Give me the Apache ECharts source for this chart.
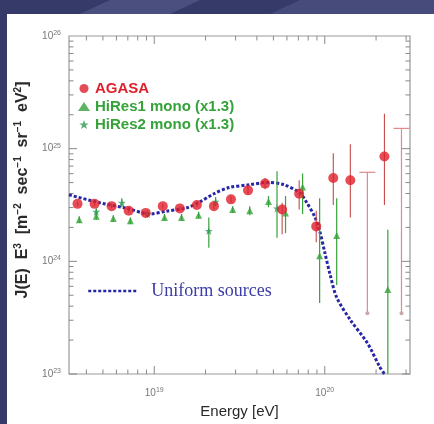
<!DOCTYPE html>
<html>
<head>
<meta charset="utf-8">
<script src="https://cdn.jsdelivr.net/npm/echarts@6/dist/echarts.min.js"></script>
<style>html,body{margin:0;padding:0;background:#383c6a;}#c{width:434px;height:424px;}</style>
</head>
<body>
<div id="c"></div>
<script>
// ---- data (log10 of energy in eV, log10 of J(E)E^3) ----
const agasaLogE = [18.55,18.65,18.75,18.85,18.95,19.05,19.15,19.25,19.35,19.45,19.55,19.65,19.75,19.85,19.95,20.05,20.15,20.35];
const agasaLogJ = [24.51,24.51,24.49,24.45,24.43,24.49,24.47,24.50,24.49,24.55,24.63,24.69,24.46,24.60,24.31,24.74,24.72,24.93];
const agasaLo   = [24.49,24.49,24.47,24.43,24.41,24.47,24.45,24.48,24.46,24.52,24.59,24.64,24.24,24.46,24.17,24.50,24.39,24.50];
const agasaHi   = [24.53,24.53,24.51,24.47,24.45,24.51,24.49,24.52,24.52,24.58,24.67,24.74,24.52,24.72,24.45,24.96,25.04,25.31];
const agasaLimLogE = [20.25, 20.45];
const agasaLimTop  = [24.79, 25.18];
const agasaLimBot  = [23.54, 23.54];

const hires1LogE = [18.56,18.66,18.76,18.86,19.06,19.16,19.26,19.46,19.56,19.67,19.77,19.87,19.97,20.07,20.37];
const hires1LogJ = [24.37,24.40,24.38,24.36,24.39,24.39,24.41,24.46,24.45,24.53,24.43,24.66,24.05,24.23,23.75];
const hires1Lo   = [24.34,24.37,24.35,24.33,24.36,24.36,24.38,24.43,24.41,24.48,24.25,24.42,23.63,23.79,23.00];
const hires1Hi   = [24.40,24.43,24.41,24.39,24.42,24.42,24.44,24.49,24.49,24.58,24.58,24.78,24.56,24.56,24.28];

const hires2LogE = [18.66,18.81,18.96,19.32,19.36,19.72];
const hires2LogJ = [24.44,24.52,24.42,24.27,24.53,24.47];
const hires2Lo   = [24.41,24.48,24.39,24.12,24.49,24.21];
const hires2Hi   = [24.47,24.56,24.45,24.39,24.57,24.80];

const curveLogE = [18.50,18.68,18.84,18.975,19.07,19.19,19.27,19.35,19.44,19.56,19.66,19.76,19.855,19.895,19.94,19.97,20.00,20.03,20.07,20.15,20.25,20.32,20.35];
const curveLogJ = [24.59,24.52,24.47,24.42,24.445,24.475,24.53,24.60,24.655,24.68,24.70,24.68,24.605,24.52,24.40,24.27,24.08,23.89,23.68,23.48,23.275,23.07,23.00];

const xRangeLog = [18.5, 20.5];
const yRangeLog = [23, 26];

// ---- helpers ----
const p10 = v => Math.pow(10, v);
const xMin = p10(xRangeLog[0]), xMax = p10(xRangeLog[1]);
const yMin = p10(yRangeLog[0]), yMax = p10(yRangeLog[1]);
const pts = (xs, ys) => xs.map((x, i) => [p10(x), p10(ys[i])]);
const errs = (xs, lo, hi) => xs.map((x, i) => [p10(x), p10(lo[i]), p10(hi[i])]);

// tick list: [x, y, kind(0=x,1=y), major(1/0)]
const ticks = [];
for (let n = Math.floor(xRangeLog[0]); n <= Math.ceil(xRangeLog[1]); n++) {
  for (let k = 1; k <= 9; k++) {
    const v = k * p10(n);
    if (v >= xMin * 1.0001 && v <= xMax * 0.9999) ticks.push([v, yMin, 0, k === 1 ? 1 : 0]);
  }
}
for (let n = yRangeLog[0]; n < yRangeLog[1]; n++) {
  for (let k = 1; k <= 9; k++) {
    ticks.push([xMin, k * p10(n), 1, k === 1 ? 1 : 0]);
  }
}

const RED = '#e01f2a', GREEN = '#36a23a', BLUE = '#2626a8';

function labelFmt(v) {
  const l = Math.log10(v), e = Math.round(l);
  if (Math.abs(l - e) > 1e-6) return '';
  return '{b|10}{s|' + e + '}';
}
const labelRich = {
  b: {fontSize: 10, color: '#777', fontFamily: 'Liberation Sans'},
  s: {fontSize: 7, color: '#777', fontFamily: 'Liberation Sans', padding: [0, 0, 6, 0]}
};

function errorBar(color, width) {
  return function (params, api) {
    const a = api.coord([api.value(0), api.value(1)]);
    const b = api.coord([api.value(0), api.value(2)]);
    return {type: 'line', shape: {x1: a[0], y1: a[1], x2: b[0], y2: b[1]},
      style: {stroke: color, lineWidth: width}};
  };
}

const chart = echarts.init(document.getElementById('c'), null, {renderer: 'canvas'});
chart.setOption({
  backgroundColor: '#363a68',
  animation: false,
  graphic: [
    {type: 'polygon', z: -101, silent: true, shape: {points: [[110, 0], [200, 0], [170, 14], [80, 14]]}, style: {fill: '#4a4f80'}},
    {type: 'polygon', z: -101, silent: true, shape: {points: [[300, 0], [434, 0], [434, 14], [270, 14]]}, style: {fill: '#464b7c'}},
    {type: 'rect', z: -100, silent: true, shape: {x: 7, y: 14, width: 427, height: 410}, style: {fill: '#ffffff'}}
  ],
  grid: {left: 69, right: 24, top: 36, bottom: 46, show: true, borderColor: '#999', borderWidth: 1.2, backgroundColor: '#fff'},
  legend: [
    {
      orient: 'vertical', left: 73, top: 76, itemWidth: 12, itemHeight: 9, itemGap: 3,
      textStyle: {fontFamily: 'Liberation Sans', fontWeight: 'bold', fontSize: 15},
      data: [
        {name: 'AGASA', textStyle: {color: RED}},
        {name: 'HiRes1 mono (x1.3)', textStyle: {color: GREEN}},
        {name: 'HiRes2 mono (x1.3)', textStyle: {color: GREEN}}
      ]
    },
    {
      left: 82, top: 277, itemWidth: 50, itemHeight: 10,
      textStyle: {fontFamily: 'Liberation Serif', fontSize: 18, color: '#3c3ca8', padding: [0, 0, 0, 8]},
      data: [{name: 'Uniform sources', itemStyle: {opacity: 0}, lineStyle: {width: 2.5}}]
    }
  ],
  xAxis: {
    type: 'log', logBase: 10, min: xMin, max: xMax,
    name: 'Energy [eV]', nameLocation: 'middle', nameGap: 30,
    nameTextStyle: {fontFamily: 'Liberation Sans', fontSize: 15, color: '#2a2a2a'},
    axisLine: {show: false}, axisTick: {show: false}, splitLine: {show: false},
    axisLabel: {formatter: labelFmt, rich: labelRich, margin: 13, showMinLabel: true, showMaxLabel: true}
  },
  yAxis: {
    type: 'log', logBase: 10, min: yMin, max: yMax,
    name: '{t|J(E)  E}{s|3}{t|  [m}{s|\u22122}{t|  sec}{s|\u22121}{t|  sr}{s|\u22121}{t|  eV}{s|2}{t|]}',
    nameLocation: 'middle', nameGap: 37, nameRotate: 90,
    nameTextStyle: {
      padding: [0, 0, 0, 30],
      rich: {
        t: {fontFamily: 'Liberation Sans', fontWeight: 'bold', fontSize: 16, color: '#2a2a2a'},
        s: {fontFamily: 'Liberation Sans', fontWeight: 'bold', fontSize: 10, color: '#2a2a2a', padding: [0, 0, 9, 0]}
      }
    },
    axisLine: {show: false}, axisTick: {show: false}, splitLine: {show: false},
    axisLabel: {formatter: labelFmt, rich: labelRich, margin: 8, showMinLabel: true, showMaxLabel: true}
  },
  series: [
    {
      name: 'ticks', type: 'custom', silent: true, z: 1, data: ticks,
      renderItem: function (params, api) {
        const cs = params.coordSys;
        const p = api.coord([api.value(0), api.value(1)]);
        const L = api.value(3) ? 8 : 4.5;
        const st = {stroke: '#888', lineWidth: 1};
        if (api.value(2) === 0) {
          return {type: 'group', children: [
            {type: 'line', shape: {x1: p[0], y1: cs.y + cs.height, x2: p[0], y2: cs.y + cs.height - L}, style: st},
            {type: 'line', shape: {x1: p[0], y1: cs.y, x2: p[0], y2: cs.y + L}, style: st}
          ]};
        }
        return {type: 'group', children: [
          {type: 'line', shape: {x1: cs.x, y1: p[1], x2: cs.x + L, y2: p[1]}, style: st},
          {type: 'line', shape: {x1: cs.x + cs.width, y1: p[1], x2: cs.x + cs.width - L, y2: p[1]}, style: st}
        ]};
      }
    },
    {
      name: 'Uniform sources', type: 'line', data: pts(curveLogE, curveLogJ), smooth: 0.3,
      symbol: 'none', clip: true, z: 3,
      lineStyle: {color: BLUE, width: 3, type: [3, 2]}, itemStyle: {color: BLUE}
    },
    {
      name: 'hires1err', type: 'custom', data: errs(hires1LogE, hires1Lo, hires1Hi), z: 4,
      encode: {x: 0, y: [1, 2]}, renderItem: errorBar(GREEN, 1.2), clip: true
    },
    {
      name: 'hires2err', type: 'custom', data: errs(hires2LogE, hires2Lo, hires2Hi), z: 4,
      encode: {x: 0, y: [1, 2]}, renderItem: errorBar(GREEN, 1.2), clip: true
    },
    {
      name: 'agasaerr', type: 'custom', data: errs(agasaLogE, agasaLo, agasaHi), z: 4,
      encode: {x: 0, y: [1, 2]}, renderItem: errorBar('#c84a4a', 1.1), clip: true
    },
    {
      name: 'agasalim', type: 'custom', data: errs(agasaLimLogE, agasaLimBot, agasaLimTop), z: 4,
      encode: {x: 0, y: [1, 2]}, clip: true,
      renderItem: function (params, api) {
        const a = api.coord([api.value(0), api.value(1)]);
        const b = api.coord([api.value(0), api.value(2)]);
        const st = {stroke: '#e08a8a', lineWidth: 1.2};
        return {type: 'group', children: [
          {type: 'line', shape: {x1: a[0], y1: a[1], x2: b[0], y2: b[1]}, style: st},
          {type: 'line', shape: {x1: b[0] - 8, y1: b[1], x2: b[0] + 8, y2: b[1]}, style: st},
          {type: 'circle', shape: {cx: a[0], cy: a[1], r: 2}, style: {fill: '#c8a8a8'}}
        ]};
      }
    },
    {
      name: 'HiRes1 mono (x1.3)', type: 'scatter', data: pts(hires1LogE, hires1LogJ), z: 5,
      symbol: 'triangle', symbolSize: 7, itemStyle: {color: GREEN}
    },
    {
      name: 'HiRes2 mono (x1.3)', type: 'scatter', data: pts(hires2LogE, hires2LogJ), z: 5,
      symbol: 'path://M0,-10L2.4,-3.1L9.5,-3.1L3.8,1.2L5.9,8.1L0,4L-5.9,8.1L-3.8,1.2L-9.5,-3.1L-2.4,-3.1Z',
      symbolSize: 8, itemStyle: {color: '#2f9a55'}
    },
    {
      name: 'AGASA', type: 'scatter', data: pts(agasaLogE, agasaLogJ), z: 6,
      symbol: 'circle', symbolSize: 10, itemStyle: {color: RED}
    }
  ]
});
</script>
</body>
</html>
